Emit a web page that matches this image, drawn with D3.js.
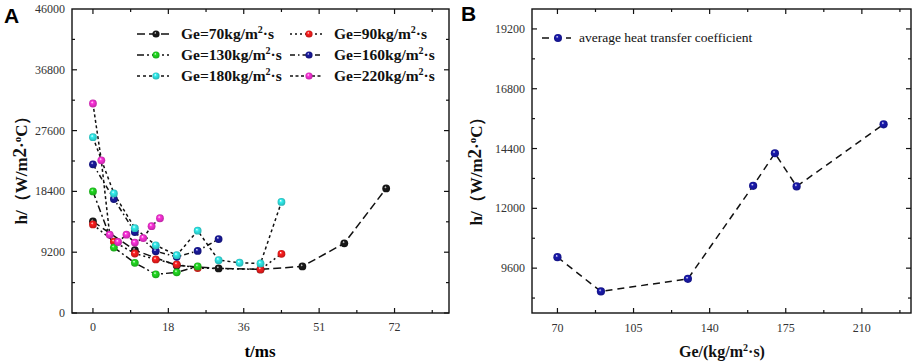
<!DOCTYPE html>
<html><head><meta charset="utf-8">
<script src="https://cdn.jsdelivr.net/npm/d3@7/dist/d3.min.js"></script>
<style>
body{margin:0;background:#fff;}
svg{display:block;}
</style></head>
<body>
<svg id="c" width="913" height="363"></svg>
<script>
// ---------- Panel A data ----------
const seriesNames = ["Ge=70kg/m²·s","Ge=90kg/m²·s","Ge=130kg/m²·s","Ge=160kg/m²·s","Ge=180kg/m²·s","Ge=220kg/m²·s"];
const seriesColors = ["#1a1a1a","#ff1f1f","#22dd22","#1a1aa0","#33f0f0","#ff33dd"];
const t70 = [0,10,20,30,40,50,60,70];
const h70 = [13850,9500,7200,6750,6600,7050,10550,18850];
const t90 = [0,5,10,15,20,25,40,45];
const h90 = [13400,10800,9000,8100,7350,6800,6600,8940];
const t130 = [0,5,10,15,20,25];
const h130 = [18400,9900,7590,5850,6150,7050];
const t160 = [0,5,10,15,20,25,30];
const h160 = [22500,17250,12240,9345,8500,9390,11190];
const t180 = [0,5,10,15,20,25,30,35,40,45];
const h180 = [26600,18100,12840,10245,8745,12450,8000,7600,7500,16800];
const t220 = [0,2,4,6,8,10,12,14,16];
const h220 = [31700,23100,11850,10740,11850,10650,11340,13140,14340];
const xTicksA = [0,18,36,54,72];
const xTickLabelsA = ["0","18","36","51","72"];
const yTicksA = [0,9200,18400,27600,36800,46000];

// ---------- Panel B data ----------
const geB = [70,90,130,160,170,180,220];
const hB = [10040,8664,9172,12904,14212,12880,15372];
const xTicksB = [70,105,140,175,210];
const yTicksB = [9600,12000,14400,16800,19200];
const legendB = "average heat transfer coefficient";

const svg = d3.select("#c");
const defs = svg.append("defs");
function gradFor(color, id){
  const g = defs.append("radialGradient").attr("id", id)
    .attr("cx","50%").attr("cy","50%").attr("r","55%").attr("fx","38%").attr("fy","32%");
  g.append("stop").attr("offset","0%").attr("stop-color","#ffffff");
  g.append("stop").attr("offset","30%").attr("stop-color",color);
  g.append("stop").attr("offset","100%").attr("stop-color",d3.color(color).darker(0.9));
  return "url(#"+id+")";
}
const fills = seriesColors.map((c,i)=>gradFor(c,"g"+i));
const fillB = gradFor("#1a1ab0","gB");
const dashes = ["8,4","2,3","7,3,2,3","5,3,1.5,3","3,3","3,2.5"];

const serif = "'Liberation Serif','Times New Roman',serif";

function frame(g, x, y, xMajor, xMinor, yMajor, yMinor){
  const [x0,x1] = x.range(), [y0,y1] = y.range();
  g.append("rect").attr("x",x0).attr("y",y1).attr("width",x1-x0).attr("height",y0-y1)
    .attr("fill","none").attr("stroke","#111").attr("stroke-width",1.4);
  const tk = g.append("g").attr("stroke","#111").attr("stroke-width",1.2);
  xMajor.forEach(v=>{const p=x(v);
    tk.append("line").attr("x1",p).attr("x2",p).attr("y1",y0).attr("y2",y0-5);
    tk.append("line").attr("x1",p).attr("x2",p).attr("y1",y1).attr("y2",y1+5);});
  xMinor.forEach(v=>{const p=x(v);
    tk.append("line").attr("x1",p).attr("x2",p).attr("y1",y0).attr("y2",y0-3);
    tk.append("line").attr("x1",p).attr("x2",p).attr("y1",y1).attr("y2",y1+3);});
  yMajor.forEach(v=>{const p=y(v);
    tk.append("line").attr("y1",p).attr("y2",p).attr("x1",x0).attr("x2",x0+5);
    tk.append("line").attr("y1",p).attr("y2",p).attr("x1",x1).attr("x2",x1-5);});
  yMinor.forEach(v=>{const p=y(v);
    tk.append("line").attr("y1",p).attr("y2",p).attr("x1",x0).attr("x2",x0+3);
    tk.append("line").attr("y1",p).attr("y2",p).attr("x1",x1).attr("x2",x1-3);});
}

// ================= Panel A =================
const xA = d3.scaleLinear().domain([-5,85]).range([72,449]);
const yA = d3.scaleLinear().domain([0,46000]).range([313,9]);
const gA = svg.append("g");
frame(gA, xA, yA, xTicksA, [9,27,45,63,81], yTicksA.filter(v=>v<46000), d3.range(4600,46000,9200));
gA.append("g").selectAll("text").data(xTicksA).join("text")
  .attr("x",d=>xA(d)).attr("y",331).attr("text-anchor","middle")
  .attr("font-family",serif).attr("font-size",12).attr("fill","#333")
  .text((d,i)=>xTickLabelsA[i]);
gA.append("g").selectAll("text").data(yTicksA).join("text")
  .attr("x",65).attr("y",d=>yA(d)+4).attr("text-anchor","end")
  .attr("font-family",serif).attr("font-size",12).attr("fill","#333")
  .text(d=>d);

const tsA = [t70,t90,t130,t160,t180,t220];
const hsA = [h70,h90,h130,h160,h180,h220];
const line = d3.line().x(d=>xA(d[0])).y(d=>yA(d[1]));
tsA.forEach((ts,i)=>{
  const pts = ts.map((t,j)=>[t,hsA[i][j]]);
  gA.append("path").attr("d",line(pts)).attr("fill","none").attr("stroke","#111")
    .attr("stroke-width",1.5).attr("stroke-dasharray",dashes[i]);
});
tsA.forEach((ts,i)=>{
  const pts = ts.map((t,j)=>[t,hsA[i][j]]);
  gA.append("g").selectAll("circle").data(pts).join("circle")
    .attr("cx",d=>xA(d[0])).attr("cy",d=>yA(d[1])).attr("r",3.9).attr("fill",fills[i]);
});

// legend A
const legA = gA.append("g");
seriesNames.forEach((name,i)=>{
  const col = i%2, row = Math.floor(i/2);
  const lx = col===0 ? 137 : 290, ly = [34,55,76][row];
  legA.append("line").attr("x1",lx).attr("x2",lx+32).attr("y1",ly).attr("y2",ly)
    .attr("stroke","#111").attr("stroke-width",1.5).attr("stroke-dasharray",dashes[i]);
  legA.append("circle").attr("cx",lx+19).attr("cy",ly).attr("r",3.6).attr("fill",fills[i]);
  const parts = name.split("²");
  const tx = legA.append("text").attr("x",lx+44).attr("y",ly+5)
    .attr("font-family",serif).attr("font-size",15.5).attr("font-weight","bold").attr("fill","#111");
  tx.append("tspan").text(parts[0]);
  tx.append("tspan").attr("font-size",10).attr("dy",-6).text("2");
  tx.append("tspan").attr("dy",6).text(parts[1]);
});

// axis titles A
svg.append("text").attr("x",260).attr("y",357).attr("text-anchor","middle")
  .attr("font-family",serif).attr("font-size",17).attr("font-weight","bold").text("t/ms");
function yTitle(cx, cy){
  const t = svg.append("text").attr("transform",`translate(${cx},${cy}) rotate(-90)`)
    .attr("text-anchor","middle").attr("font-family",serif).attr("font-size",17)
    .attr("font-weight","bold").attr("fill","#111");
  t.append("tspan").text("h/（W/m");
  t.append("tspan").attr("font-size",19).attr("dy",-1).text("2");
  t.append("tspan").attr("dy",1).text("·");
  t.append("tspan").attr("font-size",11).attr("dy",-6).text("o");
  t.append("tspan").attr("dy",6).text("C）");
}
yTitle(27,166);
svg.append("text").attr("x",4).attr("y",23).attr("font-family","'Liberation Sans',Arial,sans-serif")
  .attr("font-size",21).attr("font-weight","bold").text("A");

// ================= Panel B =================
const xB = d3.scaleLinear().domain([58.3,232.6]).range([532,911]);
const yB = d3.scaleLinear().domain([7800,20000]).range([313,9]);
const gB = svg.append("g");
frame(gB, xB, yB, xTicksB, [87.5,122.5,157.5,192.5,227.5], yTicksB, [8400,10800,13200,15600,18000]);
gB.append("g").selectAll("text").data(xTicksB).join("text")
  .attr("x",d=>xB(d)).attr("y",332).attr("text-anchor","middle")
  .attr("font-family",serif).attr("font-size",12).attr("fill","#333").text(d=>d);
gB.append("g").selectAll("text").data(yTicksB).join("text")
  .attr("x",525).attr("y",d=>yB(d)+4).attr("text-anchor","end")
  .attr("font-family",serif).attr("font-size",12).attr("fill","#333").text(d=>d);
const ptsB = geB.map((g,i)=>[g,hB[i]]);
gB.append("path").attr("d",d3.line().x(d=>xB(d[0])).y(d=>yB(d[1]))(ptsB))
  .attr("fill","none").attr("stroke","#111").attr("stroke-width",1.5).attr("stroke-dasharray","7,5");
gB.append("g").selectAll("circle").data(ptsB).join("circle")
  .attr("cx",d=>xB(d[0])).attr("cy",d=>yB(d[1])).attr("r",4.1).attr("fill",fillB);
gB.append("line").attr("x1",542).attr("x2",571).attr("y1",38).attr("y2",38)
  .attr("stroke","#111").attr("stroke-width",1.5).attr("stroke-dasharray","7,5");
gB.append("circle").attr("cx",558).attr("cy",38).attr("r",4).attr("fill",fillB);
gB.append("text").attr("x",579).attr("y",42).attr("font-family",serif).attr("font-size",13.5)
  .attr("fill","#111").text(legendB);

const xtB = svg.append("text").attr("x",722).attr("y",357).attr("text-anchor","middle")
  .attr("font-family",serif).attr("font-size",16).attr("font-weight","bold").attr("fill","#111");
xtB.append("tspan").text("Ge/(kg/m");
xtB.append("tspan").attr("font-size",10).attr("dy",-6).text("2");
xtB.append("tspan").attr("dy",6).text("·s)");
yTitle(482,167);
svg.append("text").attr("x",461).attr("y",21).attr("font-family","'Liberation Sans',Arial,sans-serif")
  .attr("font-size",21).attr("font-weight","bold").text("B");
</script>
</body></html>
